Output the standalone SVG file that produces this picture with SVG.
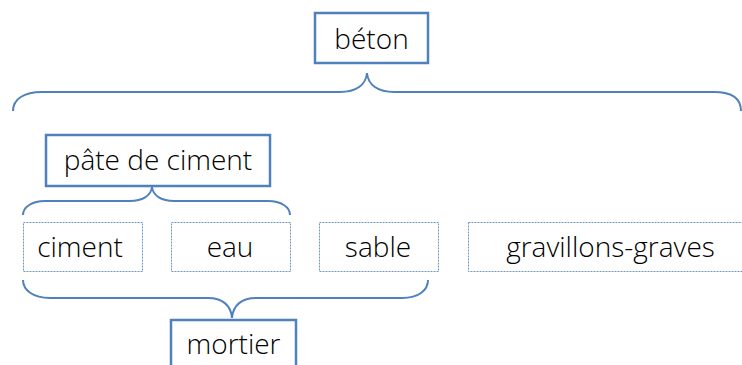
<svg xmlns="http://www.w3.org/2000/svg" width="742" height="365" viewBox="0 0 742 365">
<style>
.solid{fill:#fff;stroke:#4F81BD;stroke-width:2.5}
.dash{fill:#fff;stroke:#6F96C8;stroke-width:1;stroke-dasharray:2 1}
.brace{fill:none;stroke:#4F81BD;stroke-width:2}
text{font-family:"Open Sans","Noto Sans",sans-serif;font-size:28px;font-weight:300;fill:#000;text-anchor:middle}
</style>
<rect width="742" height="365" fill="#fff"/>
<g id="connectors">
<path class="brace" d="M13,111 C13,99 24,92 42,92 L340,92 C356,92 366,85 367,73 C368,85 378,92 394,92 L714,92 C732,92 741,99 741,111"/>
<path class="brace" d="M23,215 C23,207 32,201 45,201 L130,201 C142,201 151,196 152,187 C153,196 162,201 174,201 L268,201 C281,201 290,207 290,215"/>
<path class="brace" d="M23,280 C23,290 33,298 50,298 L208,298 C222,298 231,305 232,318 C233,305 242,298 256,298 L402,298 C419,298 428,290 428,280"/>
</g>
<g id="beton"><rect class="solid" x="315" y="13" width="113" height="50"/><text x="371.5" y="49">béton</text></g>
<g id="pate"><rect class="solid" x="46" y="135" width="224" height="51"/><text x="158" y="170">pâte de ciment</text></g>
<g id="ciment"><rect class="dash" x="23.5" y="222.5" width="119" height="49"/><text x="80" y="257">ciment</text></g>
<g id="eau"><rect class="dash" x="171.5" y="222.5" width="119" height="49"/><text x="230" y="257">eau</text></g>
<g id="sable"><rect class="dash" x="319.5" y="222.5" width="119" height="49"/><text x="378" y="257">sable</text></g>
<g id="gravillons"><rect class="dash" x="468.5" y="222.5" width="285" height="49"/><text x="610.5" y="257">gravillons-graves</text></g>
<g id="mortier"><rect class="solid" x="171" y="320" width="125" height="55"/><text x="233.5" y="354">mortier</text></g>
</svg>
